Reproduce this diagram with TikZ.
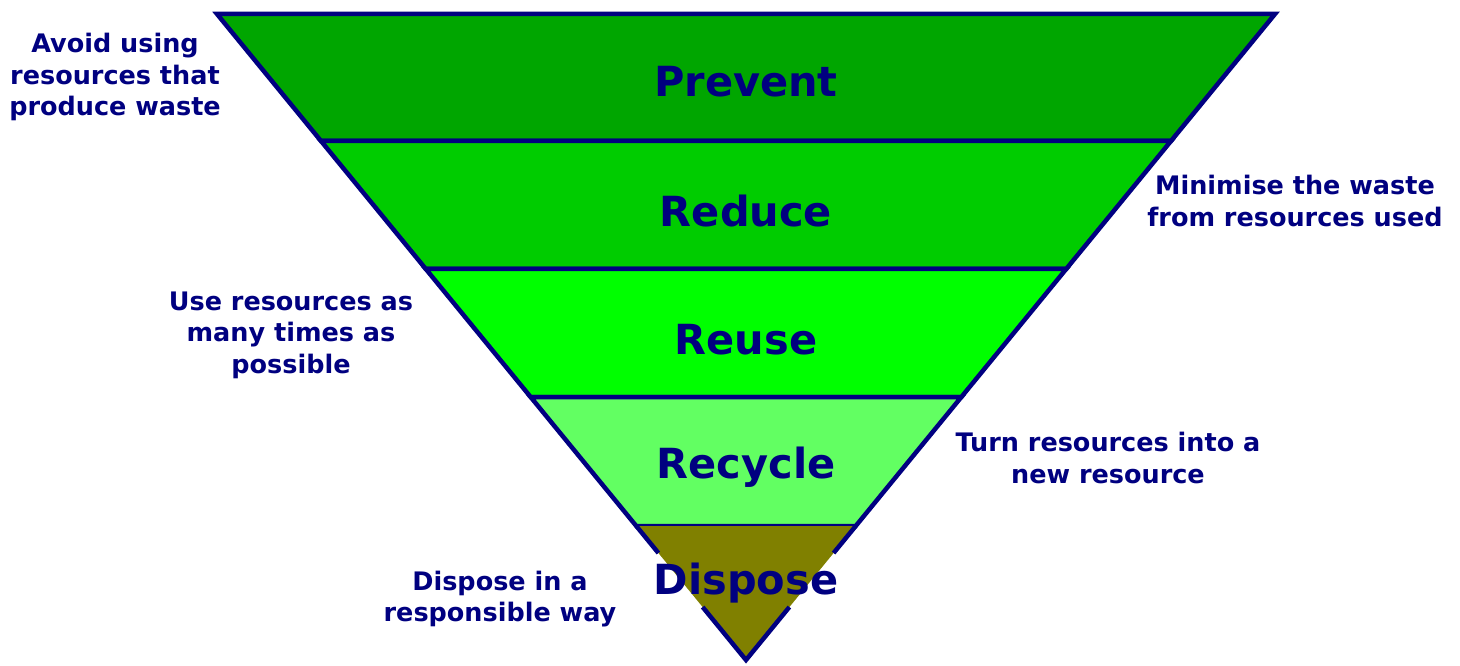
\documentclass[tikz,border=0pt]{standalone}
\usepackage{fontspec}
\setmainfont{DejaVu Sans}
\usetikzlibrary{calc}
\definecolor{navy}{RGB}{0,0,128}
\definecolor{prevgreen}{RGB}{0,166,0}
\definecolor{redgreen}{RGB}{0,204,0}
\definecolor{reusegreen}{RGB}{0,255,0}
\definecolor{recgreen}{RGB}{98,255,98}
\definecolor{dispolive}{RGB}{128,128,0}
\tikzset{
  band/.style={draw=navy, line width=4.5pt, line join=miter},
  bandlabel/.style={text=navy, font=\fontsize{41.5}{44}\selectfont\bfseries},
  sidelabel/.style={text=navy, align=center, font=\fontsize{25.5}{31.5}\selectfont\bfseries}
}

\begin{document}
\begin{tikzpicture}[x=1pt,y=-1pt]
\useasboundingbox (0,0) rectangle (1460,666);
\coordinate (tl) at (217,14);
\coordinate (tr) at (1275,14);
\coordinate (ap) at (746,660);
\coordinate (l1) at ($(tl)!0.1966!(ap)$);
\coordinate (r1) at ($(tr)!0.1966!(ap)$);
\coordinate (l2) at ($(tl)!0.3947!(ap)$);
\coordinate (r2) at ($(tr)!0.3947!(ap)$);
\coordinate (l3) at ($(tl)!0.5929!(ap)$);
\coordinate (r3) at ($(tr)!0.5929!(ap)$);
\coordinate (l4) at ($(tl)!0.7926!(ap)$);
\coordinate (r4) at ($(tr)!0.7926!(ap)$);
\coordinate (g1) at ($(tl)!0.8344!(ap)$);
\coordinate (g2) at ($(tl)!0.9180!(ap)$);
\coordinate (g3) at ($(tr)!0.8344!(ap)$);
\coordinate (g4) at ($(tr)!0.9180!(ap)$);
\draw[band, fill=prevgreen] (tl)--(tr)--(r1)--(l1)--cycle;
\draw[band, fill=redgreen] (l1)--(r1)--(r2)--(l2)--cycle;
\draw[band, fill=reusegreen] (l2)--(r2)--(r3)--(l3)--cycle;
\draw[band, fill=recgreen] (l3)--(r3)--(r4)--(l4)--cycle;
\fill[dispolive] (l4)--(r4)--(ap)--cycle;
\draw[band] (l4)--(g1) (g2)--(ap)--(g4) (g3)--(r4);
\node[bandlabel] (prevent) at (746,82) {Prevent};
\node[bandlabel] (reduce) at (746,211) {Reduce};
\node[bandlabel] (reuse) at (746,340) {Reuse};
\node[bandlabel] (recycle) at (746,467) {Recycle};
\node[bandlabel] (dispose) at (746,583) {Dispose};
\node[sidelabel] (avoid) at (115,77) {Avoid using\\resources that\\produce waste};
\node[sidelabel] (minimise) at (1295,201) {Minimise the waste\\from resources used};
\node[sidelabel] (usemany) at (291,335) {Use resources as\\many times as\\possible};
\node[sidelabel] (turn) at (1108,458) {Turn resources into a\\new resource};
\node[sidelabel] (responsible) at (500,599) {Dispose in a\\responsible way};
\end{tikzpicture}
\end{document}
